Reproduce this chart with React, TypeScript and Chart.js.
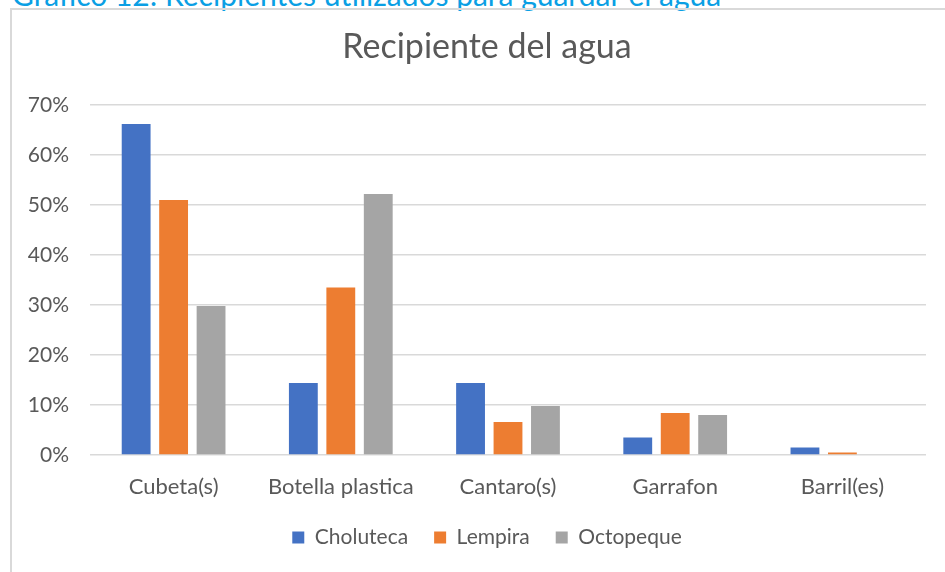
import React, { useEffect, useRef } from "react";
import { Chart, registerables } from "chart.js";

Chart.register(...registerables);

const categories = ["Cubeta(s)", "Botella plastica", "Cantaro(s)", "Garrafon", "Barril(es)"];
const choluteca = [66.2, 14.4, 14.4, 3.5, 1.5];
const lempira = [51.0, 33.5, 6.6, 8.4, 0.5];
const octopeque = [29.8, 52.2, 9.8, 8.0, 0];
const seriesNames = ["Choluteca", "Lempira", "Octopeque"];
const chartTitle = "Recipiente del agua";
const caption = "Gráfico 12: Recipientes utilizados para guardar el agua";

const FONT = "Lato, 'Liberation Sans', sans-serif";
const TEXT = "#595959";

export default function App() {
  const ref = useRef<HTMLCanvasElement | null>(null);

  useEffect(() => {
    if (!ref.current) return;
    const chart = new Chart(ref.current, {
      type: "bar",
      data: {
        labels: categories,
        datasets: [
          { label: seriesNames[0], data: choluteca, backgroundColor: "#4472C4" },
          { label: seriesNames[1], data: lempira, backgroundColor: "#ED7D31" },
          { label: seriesNames[2], data: octopeque, backgroundColor: "#A5A5A5" },
        ],
      },
      options: {
        animation: false,
        responsive: false,
        maintainAspectRatio: false,
        datasets: { bar: { categoryPercentage: 0.672, barPercentage: 0.77 } },
        layout: { padding: { left: 0, right: 0, top: 0, bottom: 14 } },
        scales: {
          x: {
            grid: { display: false, drawTicks: false },
            border: { display: false },
            ticks: { color: TEXT, font: { family: FONT, size: 22 }, padding: 19 },
            afterFit: (s: any) => {
              s.height = 46;
            },
          },
          y: {
            min: 0,
            max: 70,
            grid: { color: "#D9D9D9", lineWidth: 1.5, drawTicks: false },
            border: { display: false },
            ticks: {
              stepSize: 10,
              color: TEXT,
              font: { family: FONT, size: 21 },
              padding: 21,
              callback: (v: any) => v + "%",
            },
            afterFit: (s: any) => {
              s.width = 78;
            },
          },
          yRight: {
            position: "right",
            min: 0,
            max: 70,
            grid: { display: false, drawTicks: false },
            border: { display: false },
            ticks: { display: false },
            afterFit: (s: any) => {
              s.width = 36;
            },
          },
        },
        plugins: {
          title: {
            display: true,
            text: chartTitle,
            color: TEXT,
            font: { family: FONT, size: 34, weight: "normal" },
            padding: { top: 17, bottom: 37.2 },
          },
          legend: {
            position: "bottom",
            labels: {
              boxWidth: 12,
              boxHeight: 12,
              color: TEXT,
              font: { family: FONT, size: 21 },
              padding: 26,
            },
          },
          tooltip: { enabled: false },
        },
      },
    });
    return () => chart.destroy();
  }, []);

  return (
    <div
      style={{
        position: "fixed",
        left: 0,
        top: 0,
        width: 945,
        height: 572,
        overflow: "hidden",
        background: "#fff",
      }}
    >
      <div
        style={{
          position: "absolute",
          left: 12,
          top: -21,
          fontFamily: FONT,
          fontSize: 30,
          lineHeight: "30px",
          color: "#0A9FE4",
          whiteSpace: "nowrap",
        }}
      >
        {caption}
      </div>
      <div
        style={{
          position: "absolute",
          left: 10,
          top: 8,
          width: 1000,
          height: 700,
          border: "2px solid #D9D9D9",
          boxSizing: "border-box",
        }}
      />
      <canvas
        ref={ref}
        width={950}
        height={562}
        style={{ position: "absolute", left: 12, top: 10, width: 950, height: 562 }}
      />
    </div>
  );
}
